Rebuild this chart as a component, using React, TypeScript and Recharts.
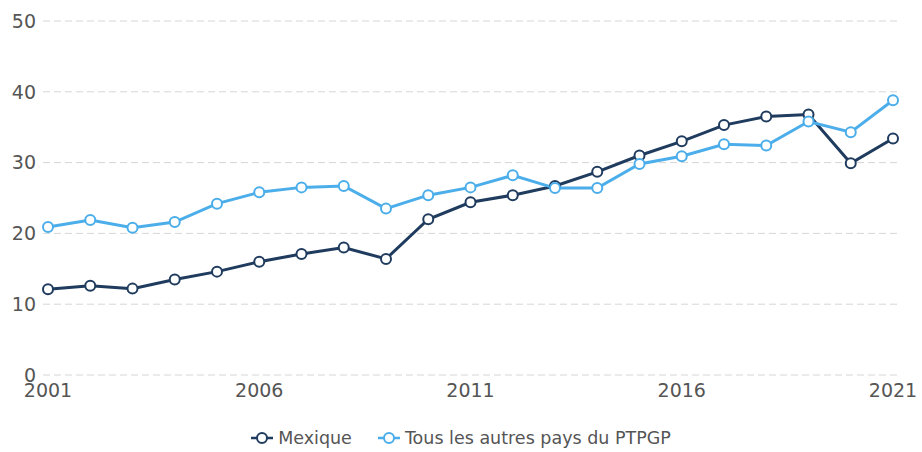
import { LineChart, Line, XAxis, YAxis, CartesianGrid } from "recharts";

const years = [
  2001, 2002, 2003, 2004, 2005, 2006, 2007, 2008, 2009, 2010, 2011,
  2012, 2013, 2014, 2015, 2016, 2017, 2018, 2019, 2020, 2021,
];
const mexique = [
  12.1, 12.6, 12.2, 13.5, 14.6, 16.0, 17.1, 18.0, 16.4, 22.0, 24.4,
  25.4, 26.7, 28.7, 31.0, 33.0, 35.3, 36.5, 36.8, 29.9, 33.4,
];
const autres = [
  20.9, 21.9, 20.8, 21.6, 24.2, 25.8, 26.5, 26.7, 23.5, 25.4, 26.5,
  28.2, 26.4, 26.4, 29.8, 30.9, 32.6, 32.4, 35.8, 34.3, 38.8,
];
const xTicks = [2001, 2006, 2011, 2016, 2021];
const yTicks = [0, 10, 20, 30, 40, 50];

const data = years.map((y, i) => ({ year: y, mex: mexique[i], autres: autres[i] }));

const series = [
  { key: "mex", name: "Mexique", color: "#1f3b5e" },
  { key: "autres", name: "Tous les autres pays du PTPGP", color: "#4baeea" },
];

const FONT = "'DejaVu Sans', Verdana, sans-serif";

// legend drawn as plain html under the chart so it doesn't eat plot height
const ChartLegend = () => (
  <div
    style={{
      position: "absolute",
      left: 0,
      top: 428,
      width: 922,
      display: "flex",
      justifyContent: "center",
      gap: 26,
      fontFamily: FONT,
      fontSize: 17.5,
      lineHeight: "20px",
      color: "#555",
    }}
  >
    {series.map((s) => (
      <span key={s.key} style={{ display: "flex", alignItems: "center", gap: 5 }}>
        <svg width={22} height={14}>
          <line x1={0} y1={7} x2={22} y2={7} stroke={s.color} strokeWidth={2.5} />
          <circle cx={11} cy={7} r={5} fill="#fff" stroke={s.color} strokeWidth={2} />
        </svg>
        {s.name}
      </span>
    ))}
  </div>
);

export default function App() {
  return (
    <div style={{ position: "absolute", left: 0, top: 0, width: 922, height: 452 }}>
      <LineChart
        width={922}
        height={452}
        data={data}
        margin={{ top: 21, right: 22, left: 0, bottom: 33 }}
      >
        <CartesianGrid stroke="#d6d6d6" strokeDasharray="7 4" vertical={false} />
        <XAxis
          dataKey="year"
          type="number"
          domain={[2001, 2021]}
          ticks={xTicks}
          padding={{ left: 5, right: 7 }}
          axisLine={false}
          tickLine={false}
          tickSize={0}
          tickMargin={9}
          height={44}
          tick={{ fill: "#555", fontSize: 19, fontFamily: FONT }}
        />
        <YAxis
          domain={[0, 50]}
          ticks={yTicks}
          axisLine={false}
          tickLine={false}
          tickSize={0}
          tickMargin={7}
          width={43}
          tick={{ fill: "#555", fontSize: 19, fontFamily: FONT }}
        />
        {series.map((s) => (
          <Line
            key={s.key}
            dataKey={s.key}
            name={s.name}
            stroke={s.color}
            strokeWidth={3}
            dot={{ r: 5, fill: "#fff", stroke: s.color, strokeWidth: 2 }}
            isAnimationActive={false}
          />
        ))}
      </LineChart>
      <ChartLegend />
    </div>
  );
}
